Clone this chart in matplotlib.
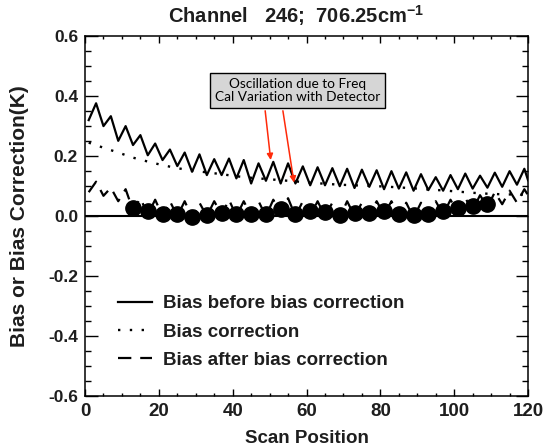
import numpy as np
import matplotlib.pyplot as plt

plt.rcParams["font.family"] = ["Liberation Sans", "DejaVu Sans"]
plt.rcParams["mathtext.fontset"] = "custom"
plt.rcParams["mathtext.bf"] = "Liberation Sans:bold"
plt.rcParams["mathtext.rm"] = "Liberation Sans:bold"

# bias curves sampled every other scan position (last sample at 120)
scan = np.append(np.arange(1, 120, 2), 120)
bias_before = [
    0.320, 0.376, 0.300, 0.333, 0.251, 0.300, 0.237, 0.270, 0.203, 0.242,
    0.187, 0.222, 0.167, 0.212, 0.148, 0.206, 0.137, 0.190, 0.137, 0.192,
    0.126, 0.187, 0.109, 0.176, 0.118, 0.181, 0.109, 0.176, 0.109, 0.166,
    0.103, 0.163, 0.103, 0.160, 0.100, 0.158, 0.094, 0.155, 0.098, 0.153,
    0.090, 0.150, 0.092, 0.146, 0.085, 0.140, 0.087, 0.130, 0.085, 0.137,
    0.090, 0.142, 0.092, 0.135, 0.095, 0.145, 0.098, 0.150, 0.105, 0.158,
    0.120,
]
bias_after = [
    0.080, 0.115, 0.068, 0.095, 0.050, 0.090, 0.020, 0.060, 0.005, 0.055,
    0.000, 0.050, 0.000, 0.050, -0.005, 0.045, 0.000, 0.050, 0.005, 0.055,
    0.000, 0.050, 0.000, 0.050, 0.000, 0.055, 0.005, 0.060, 0.000, 0.050,
    0.000, 0.050, 0.000, 0.045, -0.005, 0.050, 0.000, 0.045, 0.000, 0.050,
    0.005, 0.050, -0.005, 0.045, -0.005, 0.045, 0.000, 0.050, 0.005, 0.055,
    0.010, 0.060, 0.020, 0.070, 0.030, 0.080, 0.040, 0.085, 0.045, 0.090,
    0.070,
]

# smooth bias correction, every fourth scan position
scan_corr = np.append(np.arange(1, 120, 4), 120)
bias_corr = [
    0.245, 0.228, 0.212, 0.195, 0.182, 0.170, 0.160, 0.152, 0.146, 0.140,
    0.133, 0.128, 0.124, 0.120, 0.116, 0.112, 0.108, 0.105, 0.103, 0.101,
    0.099, 0.096, 0.093, 0.089, 0.086, 0.082, 0.078, 0.075, 0.073, 0.072,
    0.072,
]

# mean residual bias per field of view
scan_fov = np.arange(13, 110, 4)
fov_mean = [
    0.026, 0.017, 0.006, 0.006, -0.002, 0.003, 0.011, 0.006, 0.009, 0.009,
    0.023, 0.009, 0.018, 0.014, 0.003, 0.011, 0.011, 0.018, 0.007, 0.003,
    0.007, 0.018, 0.026, 0.033, 0.042,
]

txt = "#1e1e1e"
fig = plt.figure(figsize=(5.46, 4.47), dpi=100)
ax = fig.add_axes([0.1557, 0.113, 0.8114, 0.8065])

ax.plot(scan, bias_before, color="k", lw=1.6, label="Bias before bias correction")
ax.plot(scan_corr, bias_corr, color="k", lw=1.7, linestyle=(0, (1, 4)),
        label="Bias correction")
ax.plot(scan, bias_after, color="k", lw=1.6, linestyle=(0, (6, 4)),
        label="Bias after bias correction")
ax.plot(scan_fov, fov_mean, "o", color="k", markersize=11)
ax.axhline(0, color="k", lw=1.5)

ax.set_xlim(0, 120)
ax.set_ylim(-0.6, 0.6)
ax.set_xticks(np.arange(0, 121, 20))
ax.set_xticks(np.arange(0, 121, 5), minor=True)
ax.set_yticks(np.arange(-0.6, 0.61, 0.2))
ax.set_yticks(np.arange(-0.6, 0.61, 0.05), minor=True)
ax.set_xticklabels([f"{v:d}" for v in range(0, 121, 20)])
ax.set_yticklabels([f"{v:.1f}" for v in np.arange(-0.6, 0.61, 0.2)])
ax.tick_params(which="both", direction="in", top=True, right=True, width=1.0,
               colors="k", labelcolor=txt)
ax.tick_params(axis="x", which="major", length=5, labelsize=13.5, pad=5)
ax.tick_params(axis="x", which="minor", length=2.5)
ax.tick_params(axis="y", which="major", length=9, labelsize=12.5, pad=5)
ax.tick_params(axis="y", which="minor", length=4)
for lbl in ax.get_xticklabels() + ax.get_yticklabels():
    lbl.set_fontweight("bold")
for s in ax.spines.values():
    s.set_linewidth(1.1)

ax.set_xlabel("Scan Position", fontsize=13.5, fontweight="bold", color=txt,
              labelpad=7)
ax.set_ylabel("Bias or Bias Correction(K)", fontsize=15, fontweight="bold",
              color=txt, labelpad=14)
fig.text(0.543, 0.966, r"Channel   246;  706.25cm$^{\mathbf{-1}}$",
         ha="center", va="center", fontsize=14.5, fontweight="bold", color=txt)

leg = ax.legend(loc="upper left", bbox_to_anchor=(0.0745, 0.281), frameon=False,
                fontsize=13.5, handlelength=1.8, handletextpad=0.6,
                labelspacing=0.6, borderpad=0, borderaxespad=0)
for t in leg.get_texts():
    t.set_fontweight("bold")
    t.set_color(txt)

# note with arrows to two of the oscillation peaks
ax.text(57.5, 0.419, "Oscillation due to Freq\nCal Variation with Detector",
        ha="center", va="center", fontsize=9.8, family="Lato",
        linespacing=1.15,
        bbox=dict(boxstyle="square,pad=0.35", fc="#d6d6d6", ec="k", lw=1.0))
for (x0, y0), (x1, y1) in [((48.8, 0.351), (50.3, 0.187)),
                           ((53.6, 0.351), (56.6, 0.112))]:
    ax.annotate("", xy=(x1, y1), xytext=(x0, y0),
                arrowprops=dict(arrowstyle="-|>", color="#ff2a0a", lw=1.1,
                                mutation_scale=9, shrinkA=0, shrinkB=0))

fig.savefig("out.png", dpi=100)
